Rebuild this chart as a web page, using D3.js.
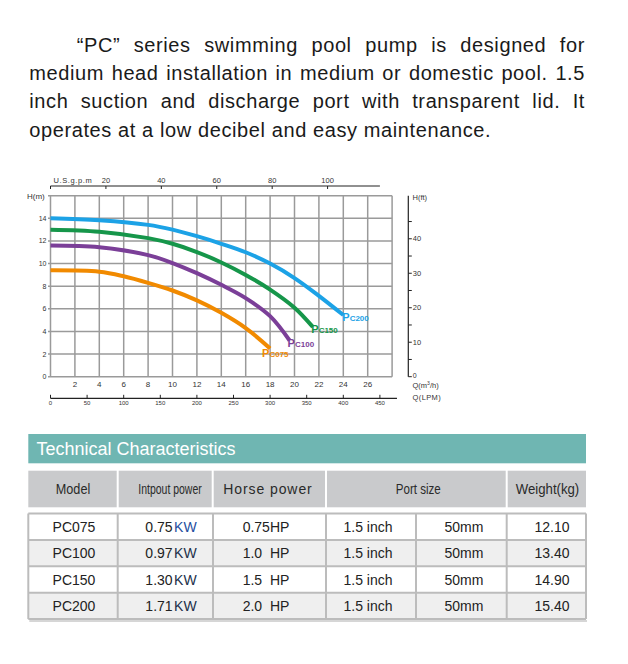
<!DOCTYPE html>
<html><head><meta charset="utf-8">
<script src="https://cdn.jsdelivr.net/npm/d3@7/dist/d3.min.js"></script>
<style>
body{margin:0;background:#fff;}
svg{display:block;font-family:"Liberation Sans",Arial,sans-serif;}
</style>
</head><body>
<svg id="c" width="628" height="664"></svg>
<script>
// ---------- DATA ----------
const paragraphLines = [
  "\u201CPC\u201D series swimming pool pump is designed for",
  "medium head installation in medium or domestic pool. 1.5",
  "inch suction and discharge port with transparent lid. It",
  "operates at a low decibel and easy maintenance."
];
const models = ["PC075", "PC100", "PC150", "PC200"];
const flowPC075 = [0, 4, 6, 8, 10, 12, 14, 16, 18];
const headPC075 = [9.4, 9.28, 8.88, 8.3, 7.62, 6.75, 5.65, 4.3, 2.5];
const flowPC100 = [0, 4, 8, 10, 12, 14, 16, 18, 19.6];
const headPC100 = [11.6, 11.45, 10.75, 10.05, 9.15, 8.12, 6.95, 5.35, 3.2];
const flowPC150 = [0, 4, 8, 10, 12, 14, 16, 18, 20, 21.5];
const headPC150 = [13.0, 12.82, 12.25, 11.75, 11.02, 10.1, 9.0, 7.7, 6.1, 4.4];
const flowPC200 = [0, 4, 8, 10, 12, 14, 16, 18, 20, 22, 24];
const headPC200 = [14.0, 13.83, 13.42, 13.0, 12.42, 11.75, 11.0, 10.0, 8.72, 7.15, 5.45];

const qTicks = [2, 4, 6, 8, 10, 12, 14, 16, 18, 20, 22, 24, 26];
const hTicks = [0, 2, 4, 6, 8, 10, 12, 14];
const gpmTicks = [20, 40, 60, 80, 100];
const lpmTicks = [0, 50, 100, 150, 200, 250, 300, 350, 400, 450];
const ftTicks = [0, 10, 20, 30, 40];
const ftMinorTicks = [5, 15, 25, 35, 45];

const tableTitle = "Technical Characteristics";
const tableHeaders = ["Model", "Intpout power", "Horse power", "Port size", "Weight(kg)"];
const inputPower = ["0.75", "0.97", "1.30", "1.71"];
const horsePower = ["0.75HP", "1.0  HP", "1.5  HP", "2.0  HP"];
const portInch = ["1.5 inch", "1.5 inch", "1.5 inch", "1.5 inch"];
const portMm = ["50mm", "50mm", "50mm", "50mm"];
const weights = ["12.10", "13.40", "14.90", "15.40"];

// ---------- STYLE / LAYOUT ----------
const colors = {PC075: "#f18a00", PC100: "#7b3f98", PC150: "#16964a", PC200: "#1ca2e6"};
const labelOffset = {PC075: [-8, 8.5], PC100: [-2, 6], PC150: [-1.5, 6], PC200: [-1, 5.5]};
const svg = d3.select("#c");

// ---------- PARAGRAPH ----------
const para = svg.append("g").attr("font-size", 20).attr("fill", "#1a1a1a").attr("letter-spacing", 0.6);
paragraphLines.forEach((t, i) => {
  const x0 = i === 0 ? 76.7 : 29.3;
  const el = para.append("text").attr("x", x0).attr("y", 51.7 + i * 28.33).text(t);
  if (i < 3) {
    const len = el.node().getComputedTextLength();
    const spaces = (t.match(/ /g) || []).length;
    el.attr("word-spacing", Math.max(0, (585 - x0 - len) / spaces));
  }
});

// ---------- CHART ----------
const x = d3.scaleLinear().domain([0, 28]).range([50.5, 392.1]);
const y = d3.scaleLinear().domain([0, 16]).range([376.7, 195.7]);
const gpmToQ = g => g * 0.227125;
const lpmToQ = l => l * 0.06;
const ftToH = f => f * 0.3048;

const chart = svg.append("g").attr("fill", "#333");
const grid = chart.append("g").attr("stroke", "#9a9a9a").attr("stroke-width", 1.5);
grid.selectAll("line.v").data(d3.range(0, 29, 2)).join("line")
  .attr("x1", d => x(d)).attr("x2", d => x(d)).attr("y1", y(16)).attr("y2", y(0));
grid.selectAll("line.h").data(d3.range(0, 17, 2)).join("line").attr("class", "h")
  .attr("x1", x(0) - 2.5).attr("x2", x(28)).attr("y1", d => y(d)).attr("y2", d => y(d));

// left axis labels
chart.append("g").attr("font-size", 7).attr("text-anchor", "end")
  .selectAll("text").data(hTicks).join("text")
  .attr("x", x(0) - 4).attr("y", d => y(d)).attr("dy", "0.35em").text(d => d);
chart.append("text").attr("x", 27).attr("y", y(16)).attr("dy", "0.35em").attr("font-size", 8).text("H(m)");

// bottom Q labels
chart.append("g").attr("font-size", 8).attr("text-anchor", "middle")
  .selectAll("text").data(qTicks).join("text")
  .attr("x", d => x(d)).attr("y", 387).text(d => d);

// top gpm axis
const topY = 186;
const topAxis = chart.append("g");
topAxis.append("line").attr("x1", x(0)).attr("x2", x(27)).attr("y1", topY).attr("y2", topY)
  .attr("stroke", "#222").attr("stroke-width", 1.2);
topAxis.selectAll("line.t").data([0].concat(gpmTicks)).join("line").attr("class", "t")
  .attr("x1", d => x(gpmToQ(d))).attr("x2", d => x(gpmToQ(d))).attr("y1", topY).attr("y2", topY + 3)
  .attr("stroke", "#222").attr("stroke-width", 1);
topAxis.selectAll("text").data(gpmTicks).join("text")
  .attr("x", d => x(gpmToQ(d))).attr("y", topY - 3).attr("text-anchor", "middle").attr("font-size", 7.5).text(d => d);
topAxis.append("text").attr("x", 53.5).attr("y", topY - 3).attr("font-size", 7.5).attr("letter-spacing", 0.6).text("U.S.g.p.m");

// bottom LPM axis
const lpmY = 398.3;
const lpmAxis = chart.append("g");
lpmAxis.append("line").attr("x1", x(0)).attr("x2", x(28.4)).attr("y1", lpmY).attr("y2", lpmY)
  .attr("stroke", "#222").attr("stroke-width", 1.2);
lpmAxis.selectAll("line.t").data(lpmTicks).join("line").attr("class", "t")
  .attr("x1", d => x(lpmToQ(d))).attr("x2", d => x(lpmToQ(d))).attr("y1", lpmY - 3.5).attr("y2", lpmY)
  .attr("stroke", "#222").attr("stroke-width", 1);
lpmAxis.selectAll("text").data(lpmTicks).join("text")
  .attr("x", d => x(lpmToQ(d))).attr("y", lpmY + 7).attr("text-anchor", "middle").attr("font-size", 6).text(d => d);

// right ft axis
const ftX = 408.3;
const ftAxis = chart.append("g");
ftAxis.append("line").attr("x1", ftX).attr("x2", ftX).attr("y1", y(16)).attr("y2", y(0))
  .attr("stroke", "#222").attr("stroke-width", 1.2);
ftAxis.selectAll("line.t").data(ftTicks.concat(ftMinorTicks)).join("line").attr("class", "t")
  .attr("x1", ftX).attr("x2", ftX + 3.5).attr("y1", d => y(ftToH(d))).attr("y2", d => y(ftToH(d)))
  .attr("stroke", "#222").attr("stroke-width", 1);
ftAxis.selectAll("text").data(ftTicks).join("text")
  .attr("x", ftX + 4.5).attr("y", d => y(ftToH(d))).attr("dy", d => d === 0 ? "0.2em" : "0.35em")
  .attr("font-size", d => d === 0 ? 7 : 7.5).text(d => d);
ftAxis.append("text").attr("x", 412.5).attr("y", y(16)).attr("dy", "0.6em").attr("font-size", 7.5).text("H(ft)");
const qLab = ftAxis.append("text").attr("x", 412.5).attr("y", 387.5).attr("font-size", 7.5);
qLab.append("tspan").text("Q(m");
qLab.append("tspan").attr("font-size", 5).attr("dy", -3).text("3");
qLab.append("tspan").attr("dy", 3).text("/h)");
ftAxis.append("text").attr("x", 412.5).attr("y", 400).attr("font-size", 7.5).attr("letter-spacing", 0.4).text("Q(LPM)");

// curves
const flows = {PC075: flowPC075, PC100: flowPC100, PC150: flowPC150, PC200: flowPC200};
const heads = {PC075: headPC075, PC100: headPC100, PC150: headPC150, PC200: headPC200};
const line = d3.line().x(d => x(d[0])).y(d => y(d[1])).curve(d3.curveCatmullRom.alpha(0.5));
const curves = chart.append("g");
models.forEach(m => {
  const pts = d3.zip(flows[m], heads[m]);
  curves.append("path").attr("d", line(pts)).attr("fill", "none")
    .attr("stroke", colors[m]).attr("stroke-width", 4);
});
models.forEach(m => {
  const f = flows[m], h = heads[m];
  const ex = x(f[f.length - 1]), ey = y(h[h.length - 1]);
  const t = curves.append("text").attr("x", ex + labelOffset[m][0]).attr("y", ey + labelOffset[m][1])
    .attr("fill", colors[m]).attr("font-weight", "bold").attr("font-size", 8);
  t.append("tspan").attr("font-size", 11).text(m.slice(0, 1));
  t.append("tspan").text(m.slice(1));
});

// ---------- TABLE ----------
const tbl = svg.append("g");
tbl.append("rect").attr("x", 28.3).attr("y", 434).attr("width", 586 - 28.3).attr("height", 29.3).attr("fill", "#6fb6b2");
tbl.append("text").attr("x", 36.5).attr("y", 455).attr("fill", "#fff").attr("font-size", 18).text(tableTitle);

const headEdges = [28.3, 117.7, 212.7, 326, 506.7, 586];
const headCenters = [73, 170, 267.5, 418.3, 547.5];
const headWidths = [34.5, 63.5, 88.5, 45, 63.5];
tbl.selectAll("rect.hc").data(tableHeaders).join("rect").attr("class", "hc")
  .attr("x", (d, i) => headEdges[i] + (i ? 1 : 0)).attr("y", 470.7)
  .attr("width", (d, i) => headEdges[i + 1] - headEdges[i] - (i ? 1 : 0) - (i < 4 ? 1 : 0))
  .attr("height", 36.6).attr("fill", "#c9cacc");
tbl.selectAll("text.ht").data(tableHeaders).join("text").attr("class", "ht")
  .attr("x", (d, i) => headCenters[i] - headWidths[i] / 2).attr("y", 494)
  .attr("font-size", 14).attr("fill", "#2a2a2a")
  .attr("textLength", (d, i) => headWidths[i])
  .attr("lengthAdjust", (d, i) => i === 2 ? "spacing" : "spacingAndGlyphs")
  .text(d => d);

const rowTop = 513.5, rowH = 26.4;
const colEdges = [28.3, 117.7, 213, 326, 416, 506.7, 586];
const colCenters = [74, 171, 266, 368, 464, 552];
const rows = tbl.selectAll("g.row").data(models).join("g").attr("class", "row")
  .attr("transform", (d, i) => `translate(0,${rowTop + i * rowH})`);
rows.append("rect").attr("x", colEdges[0]).attr("y", 0).attr("width", colEdges[6] - colEdges[0]).attr("height", rowH)
  .attr("fill", (d, i) => i % 2 ? "#efefef" : "#ffffff");
rows.each(function (m, i) {
  const g = d3.select(this);
  const txt = (k, v) => g.append("text").attr("x", colCenters[k]).attr("y", 18.3)
    .attr("text-anchor", "middle").attr("font-size", 14).attr("fill", "#222").text(v);
  txt(0, m);
  const ip = g.append("text").attr("x", colCenters[1]).attr("y", 18.3).attr("text-anchor", "middle")
    .attr("font-size", 14).attr("fill", "#222");
  ip.append("tspan").text(inputPower[i]);
  ip.append("tspan").attr("dx", 1.5).attr("fill", i === 0 ? "#1f4fa0" : "#22304a").text("KW");
  txt(2, horsePower[i]).attr("xml:space", "preserve").style("white-space", "pre");
  txt(3, portInch[i]);
  txt(4, portMm[i]);
  txt(5, weights[i]);
});
// grid lines of table
const tg = tbl.append("g").attr("stroke", "#bcbcbc").attr("stroke-width", 2);
tg.selectAll("line.rh").data(d3.range(0, models.length + 1)).join("line").attr("class", "rh")
  .attr("x1", colEdges[0]).attr("x2", colEdges[6])
  .attr("y1", d => rowTop + d * rowH).attr("y2", d => rowTop + d * rowH);
tg.selectAll("line.cv").data(colEdges).join("line").attr("class", "cv")
  .attr("x1", d => d).attr("x2", d => d).attr("y1", rowTop).attr("y2", rowTop + models.length * rowH);
tbl.append("line").attr("x1", colEdges[0] + 1).attr("x2", colEdges[6] + 1)
  .attr("y1", rowTop + models.length * rowH + 2).attr("y2", rowTop + models.length * rowH + 2)
  .attr("stroke", "#d6d6d6").attr("stroke-width", 2);
</script>
</body></html>
